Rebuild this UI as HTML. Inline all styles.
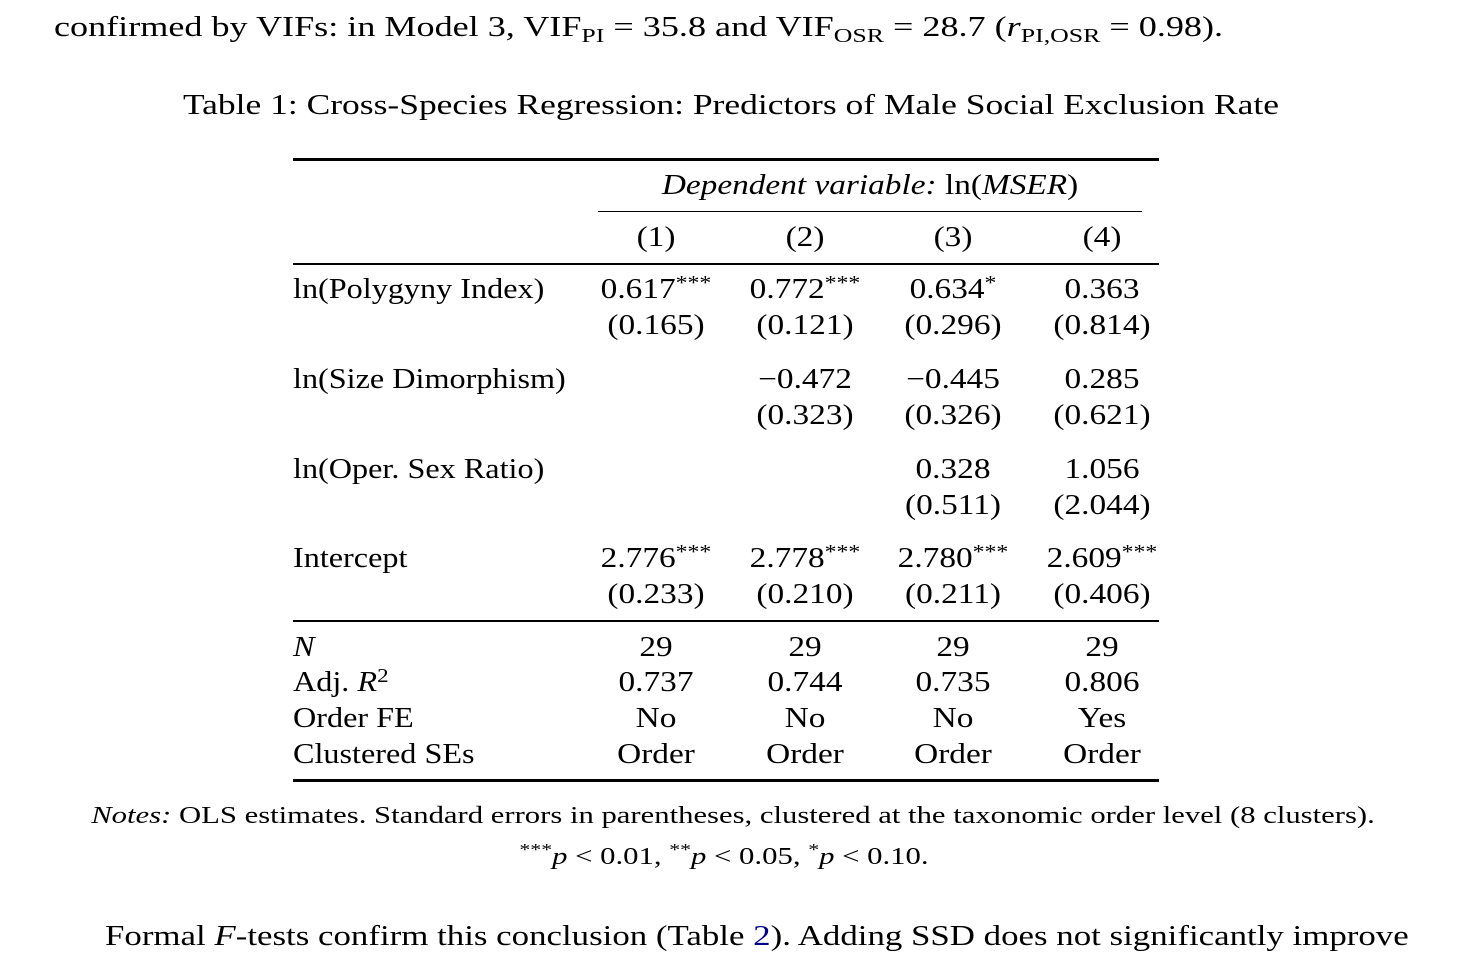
<!DOCTYPE html>
<html><head><meta charset="utf-8"><style>
body{margin:0;width:1466px;height:961px;background:#fff;position:relative;overflow:hidden;font-family:"Liberation Serif",serif;color:#000;}
.t{position:absolute;white-space:nowrap;font-size:28px;line-height:36px;height:36px;transform-origin:left center;transform:scaleX(1.15);}
.c{transform-origin:center center;transform:translateX(-50%) scaleX(1.19);}
.r{position:absolute;background:#000;}
sup{font-size:20px;vertical-align:9px;line-height:0;}
sub{font-size:20px;vertical-align:-6px;line-height:0;}
i{font-style:italic;}
</style></head><body>
<div class="t" style="left:54px;top:10px;transform:scaleX(1.29);">confirmed by VIFs: in Model 3, VIF<sub>PI</sub> = 35.8 and VIF<sub>OSR</sub> = 28.7 (<i>r</i><sub>PI,OSR</sub> = 0.98).</div>
<div class="t c" style="left:731px;top:88px;transform:translateX(-50%) scaleX(1.267);">Table 1: Cross-Species Regression: Predictors of Male Social Exclusion Rate</div>
<div class="r" style="left:293px;top:158px;width:866px;height:3px;"></div>
<div class="t c" style="left:870px;top:168px;"><i>Dependent variable:</i> ln(<i>MSER</i>)</div>
<div class="r" style="left:598px;top:211px;width:544px;height:1px;"></div>
<div class="r" style="left:293px;top:263px;width:866px;height:2px;"></div>
<div class="r" style="left:293px;top:620px;width:866px;height:2px;"></div>
<div class="r" style="left:293px;top:779px;width:866px;height:3px;"></div>
<div class="t c" style="left:656px;top:220px;">(1)</div>
<div class="t c" style="left:805px;top:220px;">(2)</div>
<div class="t c" style="left:953px;top:220px;">(3)</div>
<div class="t c" style="left:1102px;top:220px;">(4)</div>

<div class="t" style="left:293px;top:272px;">ln(Polygyny Index)</div>
<div class="t c" style="left:656px;top:272px;">0.617<sup>***</sup></div>
<div class="t c" style="left:805px;top:272px;">0.772<sup>***</sup></div>
<div class="t c" style="left:953px;top:272px;">0.634<sup>*</sup></div>
<div class="t c" style="left:1102px;top:272px;">0.363</div>
<div class="t c" style="left:656px;top:308px;">(0.165)</div>
<div class="t c" style="left:805px;top:308px;">(0.121)</div>
<div class="t c" style="left:953px;top:308px;">(0.296)</div>
<div class="t c" style="left:1102px;top:308px;">(0.814)</div>

<div class="t" style="left:293px;top:362px;">ln(Size Dimorphism)</div>
<div class="t c" style="left:805px;top:362px;">−0.472</div>
<div class="t c" style="left:953px;top:362px;">−0.445</div>
<div class="t c" style="left:1102px;top:362px;">0.285</div>
<div class="t c" style="left:805px;top:398px;">(0.323)</div>
<div class="t c" style="left:953px;top:398px;">(0.326)</div>
<div class="t c" style="left:1102px;top:398px;">(0.621)</div>

<div class="t" style="left:293px;top:452px;">ln(Oper. Sex Ratio)</div>
<div class="t c" style="left:953px;top:452px;">0.328</div>
<div class="t c" style="left:1102px;top:452px;">1.056</div>
<div class="t c" style="left:953px;top:488px;">(0.511)</div>
<div class="t c" style="left:1102px;top:488px;">(2.044)</div>

<div class="t" style="left:293px;top:541px;">Intercept</div>
<div class="t c" style="left:656px;top:541px;">2.776<sup>***</sup></div>
<div class="t c" style="left:805px;top:541px;">2.778<sup>***</sup></div>
<div class="t c" style="left:953px;top:541px;">2.780<sup>***</sup></div>
<div class="t c" style="left:1102px;top:541px;">2.609<sup>***</sup></div>
<div class="t c" style="left:656px;top:577px;">(0.233)</div>
<div class="t c" style="left:805px;top:577px;">(0.210)</div>
<div class="t c" style="left:953px;top:577px;">(0.211)</div>
<div class="t c" style="left:1102px;top:577px;">(0.406)</div>

<div class="t" style="left:293px;top:630px;"><i>N</i></div>
<div class="t c" style="left:656px;top:630px;">29</div>
<div class="t c" style="left:805px;top:630px;">29</div>
<div class="t c" style="left:953px;top:630px;">29</div>
<div class="t c" style="left:1102px;top:630px;">29</div>
<div class="t" style="left:293px;top:665px;">Adj. <i>R</i><sup>2</sup></div>
<div class="t c" style="left:656px;top:665px;">0.737</div>
<div class="t c" style="left:805px;top:665px;">0.744</div>
<div class="t c" style="left:953px;top:665px;">0.735</div>
<div class="t c" style="left:1102px;top:665px;">0.806</div>
<div class="t" style="left:293px;top:701px;">Order FE</div>
<div class="t c" style="left:656px;top:701px;">No</div>
<div class="t c" style="left:805px;top:701px;">No</div>
<div class="t c" style="left:953px;top:701px;">No</div>
<div class="t c" style="left:1102px;top:701px;">Yes</div>
<div class="t" style="left:293px;top:737px;">Clustered SEs</div>
<div class="t c" style="left:656px;top:737px;">Order</div>
<div class="t c" style="left:805px;top:737px;">Order</div>
<div class="t c" style="left:953px;top:737px;">Order</div>
<div class="t c" style="left:1102px;top:737px;">Order</div>

<div class="t c" style="left:733px;top:800px;font-size:24px;line-height:32px;transform:translateX(-50%) scaleX(1.278);"><i>Notes:</i> OLS estimates. Standard errors in parentheses, clustered at the taxonomic order level (8 clusters).</div>
<div class="t c" style="left:724px;top:841px;font-size:24px;line-height:32px;transform:translateX(-50%) scaleX(1.28);"><sup style="font-size:17px">***</sup><i>p</i> &lt; 0.01, <sup style="font-size:17px">**</sup><i>p</i> &lt; 0.05, <sup style="font-size:17px">*</sup><i>p</i> &lt; 0.10.</div>
<div class="t" style="left:105px;top:919px;transform:scaleX(1.245);">Formal <i>F</i>-tests confirm this conclusion (Table <span style="color:#00008b">2</span>). Adding SSD does not significantly improve</div>
</body></html>
